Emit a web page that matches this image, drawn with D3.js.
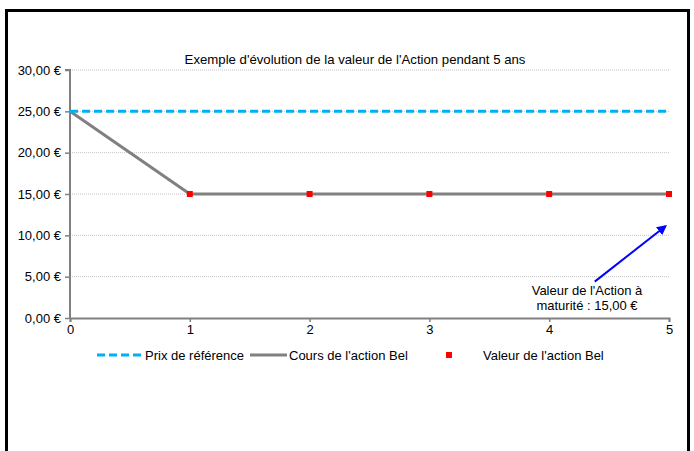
<!DOCTYPE html>
<html><head><meta charset="utf-8">
<script src="https://cdn.jsdelivr.net/npm/d3@7"></script>
<style>body{margin:0;background:#fff;}text{font-family:"Liberation Sans",Arial,sans-serif;}</style>
</head><body>
<svg id="c" width="694" height="451"></svg>
<script>
const years = [0, 1, 2, 3, 4, 5];
const prixReference = [25, 25, 25, 25, 25, 25];
const coursAction = [25, 15, 15, 15, 15, 15];
const valeurYears = [1, 2, 3, 4, 5];
const valeurAction = [15, 15, 15, 15, 15];
const yTicks = [0, 5, 10, 15, 20, 25, 30];
const title = "Exemple d'évolution de la valeur de l'Action pendant 5 ans";
const legendLabels = ["Prix de référence", "Cours de l'action Bel", "Valeur de l'action Bel"];
const annotation = ["Valeur de l'Action à", "maturité : 15,00 €"];
const arrowFrom = [4.38, 4.4];
const arrowTo = [4.97, 11.1];

const svg = d3.select("#c");
const x = d3.scaleLinear().domain([0, 5]).range([70, 669]);
const y = d3.scaleLinear().domain([0, 30]).range([318, 70]);
const fmt = v => d3.format(".2f")(v).replace(".", ",") + " €";

// frame
svg.append("path").attr("d", "M6.5,451 V10.5 H688.5 V451").attr("fill", "none")
  .attr("stroke", "#000").attr("stroke-width", 3);

// gridlines
svg.append("g").selectAll("line").data(yTicks.filter(v => v > 0)).join("line")
  .attr("x1", x(0)).attr("x2", x(5)).attr("y1", d => y(d)).attr("y2", d => y(d))
  .attr("stroke", "#c4c4c4").attr("stroke-width", 1).attr("stroke-dasharray", "1,1");

// title
svg.append("text").attr("x", 355).attr("y", 64).attr("text-anchor", "middle")
  .attr("font-size", 13.2).text(title);

// axes
const yAxis = svg.append("g").attr("transform", `translate(${x(0)},0)`)
  .call(d3.axisLeft(y).tickValues(yTicks).tickFormat(fmt).tickSize(5).tickPadding(4));
const xAxis = svg.append("g").attr("transform", `translate(0,${y(0)})`)
  .call(d3.axisBottom(x).tickValues(years).tickFormat(d3.format("d")).tickSize(4).tickPadding(3));
[yAxis, xAxis].forEach(g => {
  g.select(".domain").attr("stroke", "#808080").attr("stroke-width", 2);
  g.selectAll(".tick line").attr("stroke", "#808080").attr("stroke-width", 1.5);
  g.selectAll("text").attr("font-size", 13).attr("fill", "#000")
    .attr("font-family", "'Liberation Sans',Arial,sans-serif");
});
yAxis.select(".domain").attr("d", `M-5,${y(30)}H0V${y(0)}`);

// lines
const line = d3.line().x((d, i) => x(years[i])).y(d => y(d));
svg.append("path").datum(coursAction).attr("d", line).attr("fill", "none")
  .attr("stroke", "#808080").attr("stroke-width", 3);
svg.append("path").datum(prixReference).attr("d", line).attr("fill", "none")
  .attr("stroke", "#00B0F0").attr("stroke-width", 3).attr("stroke-dasharray", "8,4");

// points
svg.append("g").selectAll("rect").data(valeurAction).join("rect")
  .attr("x", (d, i) => x(valeurYears[i]) - 3).attr("y", d => y(d) - 3)
  .attr("width", 6).attr("height", 6).attr("fill", "#FF0000");

// annotation arrow
const defs = svg.append("defs");
defs.append("marker").attr("id", "ah").attr("viewBox", "0 0 10 10").attr("refX", 8).attr("refY", 5)
  .attr("markerWidth", 5).attr("markerHeight", 5).attr("orient", "auto")
  .append("path").attr("d", "M0,0L10,5L0,10z").attr("fill", "#0000FF");
svg.append("line").attr("x1", x(arrowFrom[0])).attr("y1", y(arrowFrom[1]))
  .attr("x2", x(arrowTo[0])).attr("y2", y(arrowTo[1]))
  .attr("stroke", "#0000FF").attr("stroke-width", 2).attr("marker-end", "url(#ah)");
svg.append("g").selectAll("text").data(annotation).join("text")
  .attr("x", 587).attr("y", (d, i) => 295 + i * 15).attr("text-anchor", "middle")
  .attr("font-size", 13).text(d => d);

// legend
const ly = 355;
const lg = svg.append("g");
lg.append("line").attr("x1", 97).attr("x2", 141).attr("y1", ly).attr("y2", ly)
  .attr("stroke", "#00B0F0").attr("stroke-width", 3).attr("stroke-dasharray", "8,4");
lg.append("line").attr("x1", 250).attr("x2", 287).attr("y1", ly).attr("y2", ly)
  .attr("stroke", "#808080").attr("stroke-width", 3);
lg.append("rect").attr("x", 446).attr("y", ly - 3).attr("width", 6).attr("height", 6).attr("fill", "#FF0000");
const lx = [145, 289, 483];
lg.selectAll("text").data(legendLabels).join("text")
  .attr("x", (d, i) => lx[i]).attr("y", ly + 4.5).attr("font-size", 13).text(d => d);
</script>
</body></html>
